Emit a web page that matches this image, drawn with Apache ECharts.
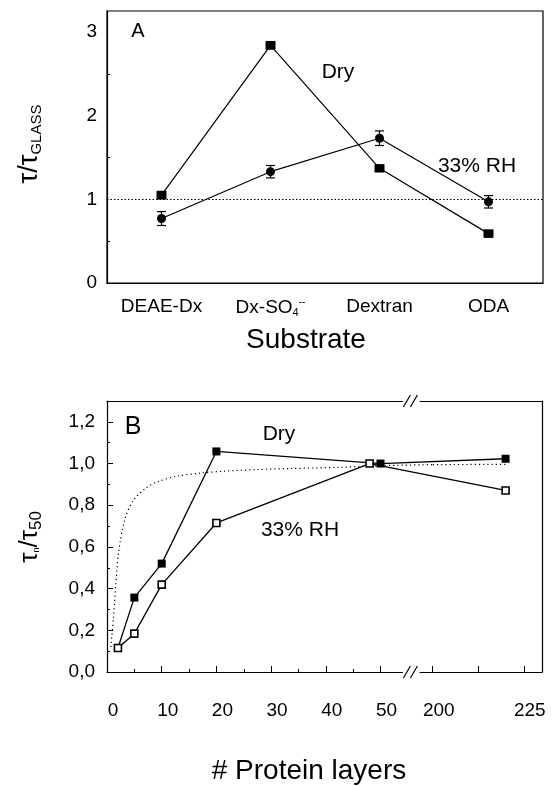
<!DOCTYPE html>
<html>
<head>
<meta charset="utf-8">
<script src="https://cdn.jsdelivr.net/npm/echarts@6/dist/echarts.min.js"></script>
<style>
html, body { margin: 0; padding: 0; background: #fff; }
#chart { width: 557px; height: 787px; }
</style>
</head>
<body>
<div id="chart"></div>
<script>
// ---- panel A : tau / tau_glass per substrate ----
const substrates = ['DEAE-Dx', 'Dx-SO4--', 'Dextran', 'ODA'];
const dryA = [1.05, 2.84, 1.37, 0.59];
const dryAErr = [0.045, 0.045, 0.04, 0.042];
const rhA = [0.77, 1.33, 1.73, 0.97];
const rhAErr = [0.083, 0.074, 0.087, 0.074];
const glassRef = 1;

// ---- panel B : tau_n / tau_50 vs number of protein layers ----
const dryLayers = [2, 5, 10, 20, 50, 220];
const dryB = [0.115, 0.357, 0.52, 1.058, 1.0, 1.023];
const rhLayers = [2, 5, 10, 20, 48, 220];
const rhB = [0.115, 0.184, 0.419, 0.715, 1.0, 0.871];
const fitLayers = [0.7, 1.15, 1.6, 2.1, 3.3, 4.8, 7, 9.1, 12.7, 17, 21.3, 27.4, 33.5, 42.6, 50, 200, 220];
const fitB = [0.12, 0.25, 0.41, 0.57, 0.736, 0.823, 0.88, 0.911, 0.939, 0.954, 0.963, 0.971, 0.976, 0.982, 0.99, 0.995, 0.996];
const xTicksLeft = [0, 10, 20, 30, 40, 50];
const xTicksRight = [200, 212.5, 225];
const xLabelsRight = [200, 225];

const leftMax = 54, rightMin = 196.5, rightMax = 230;

const font = 'Liberation Sans, Arial, sans-serif';
const black = '#000';

let myChart = echarts.init(document.getElementById('chart'));

function pairs(xs, ys) {
  return xs.map((x, i) => [x, ys[i]]);
}
const dryPts = pairs(dryLayers, dryB);
const rhPts = pairs(rhLayers, rhB);
const fitPts = pairs(fitLayers, fitB);
const inLeft = p => p[0] <= leftMax;
const inRight = p => p[0] >= rightMin;

function errorBars(vals, errs) {
  return {
    type: 'custom',
    xAxisIndex: 0,
    yAxisIndex: 0,
    z: 3,
    renderItem: function (params, api) {
      let lo = api.coord([api.value(0), api.value(1)]);
      let hi = api.coord([api.value(0), api.value(2)]);
      let w = 4.5;
      let st = { stroke: black, lineWidth: 1.2 };
      return {
        type: 'group',
        children: [
          { type: 'line', shape: { x1: lo[0], y1: lo[1], x2: hi[0], y2: hi[1] }, style: st },
          { type: 'line', shape: { x1: lo[0] - w, y1: lo[1], x2: lo[0] + w, y2: lo[1] }, style: st },
          { type: 'line', shape: { x1: hi[0] - w, y1: hi[1], x2: hi[0] + w, y2: hi[1] }, style: st }
        ]
      };
    },
    data: vals.map((v, i) => [i, v - errs[i], v + errs[i]])
  };
}

const tickLabel = { color: black, fontSize: 19, fontFamily: font };
const lineOnly = {
  axisLine: { show: true, onZero: false, lineStyle: { color: black, width: 1.2 } },
  axisTick: { show: false },
  axisLabel: { show: false },
  splitLine: { show: false }
};

let option = {
  backgroundColor: '#fff',
  animation: false,
  grid: [
    { left: 107, top: 11, width: 436, height: 272, show: true, borderColor: black, borderWidth: 1.2 },
    { left: 107, top: 401, width: 295.4, height: 271 },
    { left: 420, top: 401, width: 122, height: 271 }
  ],
  xAxis: [
    {
      type: 'category', gridIndex: 0, data: substrates, boundaryGap: true,
      axisLine: { lineStyle: { color: black, width: 1.2 } },
      axisTick: { inside: true, alignWithLabel: true, interval: 0, length: 6, lineStyle: { color: black } },
      axisLabel: Object.assign({}, tickLabel, {
        margin: 14, interval: 0, hideOverlap: false,
        formatter: v => v.replace(/SO4(-+)/, 'SO{sub|4}{sup|$1}'),
        rich: {
          sub: { fontSize: 11, fontFamily: font, color: black, padding: [10, 0, 0, 0] },
          sup: { fontSize: 10, fontFamily: font, color: black, padding: [0, 0, 10, 0] }
        }
      }),
      splitLine: { show: false }
    },
    {
      type: 'value', gridIndex: 1, position: 'bottom', min: 0, max: leftMax, interval: 10,
      axisLine: { onZero: false, lineStyle: { color: black, width: 1.2 } },
      axisTick: { inside: true, length: 6, customValues: xTicksLeft, lineStyle: { color: black } },
      minorTick: { show: true, splitNumber: 2, length: 3, lineStyle: { color: black } },
      axisLabel: Object.assign({}, tickLabel, { margin: 29, customValues: xTicksLeft, padding: [0, 0, 0, 12] }),
      splitLine: { show: false }
    },
    Object.assign({ type: 'value', gridIndex: 1, position: 'top', min: 0, max: leftMax }, lineOnly),
    {
      type: 'value', gridIndex: 2, position: 'bottom', min: rightMin, max: rightMax,
      axisLine: { onZero: false, lineStyle: { color: black, width: 1.2 } },
      axisTick: { inside: true, length: 6, customValues: xTicksRight, lineStyle: { color: black } },
      axisLabel: Object.assign({}, tickLabel, { margin: 29, customValues: xLabelsRight, padding: [0, 0, 0, 12] }),
      splitLine: { show: false }
    },
    Object.assign({ type: 'value', gridIndex: 2, position: 'top', min: rightMin, max: rightMax }, lineOnly)
  ],
  yAxis: [
    {
      type: 'value', gridIndex: 0, min: 0, max: 3.25, interval: 1,
      axisLine: { show: true, lineStyle: { color: black, width: 1.2 } },
      axisTick: { inside: true, length: 6, lineStyle: { color: black } },
      minorTick: { show: true, splitNumber: 2, length: 3, lineStyle: { color: black } },
      axisLabel: Object.assign({}, tickLabel, { margin: 10, showMaxLabel: false }),
      splitLine: { show: false }
    },
    {
      type: 'value', gridIndex: 1, min: 0, max: 1.3, interval: 0.2,
      axisLine: { show: true, onZero: false, lineStyle: { color: black, width: 1.2 } },
      axisTick: { inside: true, length: 6, lineStyle: { color: black } },
      minorTick: { show: true, splitNumber: 2, length: 3, lineStyle: { color: black } },
      axisLabel: Object.assign({}, tickLabel, {
        margin: 12, showMaxLabel: false,
        formatter: v => v.toFixed(1).replace('.', ',')
      }),
      splitLine: { show: false }
    },
    Object.assign({ type: 'value', gridIndex: 2, position: 'right', min: 0, max: 1.3 }, lineOnly)
  ],
  series: [
    {
      name: 'Dry', type: 'line', xAxisIndex: 0, yAxisIndex: 0, data: dryA,
      symbol: 'rect', symbolSize: [10, 8], z: 4,
      itemStyle: { color: black }, lineStyle: { color: black, width: 1.2 },
      markLine: {
        silent: true, symbol: 'none', label: { show: false },
        lineStyle: { color: black, width: 1.2, type: [1.5, 2] },
        data: [{ yAxis: glassRef }]
      }
    },
    {
      name: '33% RH', type: 'line', xAxisIndex: 0, yAxisIndex: 0, data: rhA,
      symbol: 'circle', symbolSize: 9, z: 4,
      itemStyle: { color: black }, lineStyle: { color: black, width: 1.2 }
    },
    errorBars(dryA, dryAErr),
    errorBars(rhA, rhAErr),
    {
      type: 'line', xAxisIndex: 1, yAxisIndex: 1, data: fitPts.filter(inLeft),
      showSymbol: false, smooth: 0.3, lineStyle: { color: black, width: 1.2, type: [1.2, 3] }
    },
    {
      type: 'line', xAxisIndex: 3, yAxisIndex: 2, data: fitPts.filter(inRight),
      showSymbol: false, lineStyle: { color: black, width: 1.2, type: [1.2, 3] }
    },
    {
      name: 'Dry', type: 'line', xAxisIndex: 1, yAxisIndex: 1, data: dryPts.filter(inLeft),
      symbol: 'rect', symbolSize: 8, z: 4,
      itemStyle: { color: black }, lineStyle: { color: black, width: 1.3 }
    },
    {
      name: 'Dry', type: 'line', xAxisIndex: 3, yAxisIndex: 2, data: dryPts.filter(inRight),
      symbol: 'rect', symbolSize: 8, z: 4,
      itemStyle: { color: black }, lineStyle: { color: black, width: 1.3 }
    },
    {
      name: '33% RH', type: 'line', xAxisIndex: 1, yAxisIndex: 1, data: rhPts.filter(inLeft),
      symbol: 'rect', symbolSize: 7, z: 5,
      itemStyle: { color: '#fff', borderColor: black, borderWidth: 1.6 },
      lineStyle: { color: black, width: 1.3 }
    },
    {
      name: '33% RH', type: 'line', xAxisIndex: 3, yAxisIndex: 2, data: rhPts.filter(inRight),
      symbol: 'rect', symbolSize: 7, z: 5,
      itemStyle: { color: '#fff', borderColor: black, borderWidth: 1.6 },
      lineStyle: { color: black, width: 1.3 }
    }
  ],
  graphic: [
    { type: 'text', x: 138, y: 31, style: { text: 'A', font: '20px ' + font, fill: black, align: 'center', verticalAlign: 'middle' } },
    { type: 'text', x: 338, y: 72, style: { text: 'Dry', font: '21px ' + font, fill: black, align: 'center', verticalAlign: 'middle' } },
    { type: 'text', x: 477, y: 166, style: { text: '33% RH', font: '21px ' + font, fill: black, align: 'center', verticalAlign: 'middle' } },
    { type: 'text', x: 306, y: 340, style: { text: 'Substrate', font: '28px ' + font, fill: black, align: 'center', verticalAlign: 'middle' } },
    {
      type: 'text', x: 30, y: 144, rotation: Math.PI / 2,
      style: {
        text: '{t|τ/τ}{s|GLASS}', align: 'center', verticalAlign: 'middle', fill: black,
        rich: {
          t: { fontSize: 27, fontFamily: font, fill: black },
          s: { fontSize: 15, fontFamily: font, fill: black, padding: [14, 0, 0, 0] }
        }
      }
    },
    { type: 'text', x: 133, y: 427, style: { text: 'B', font: '25px ' + font, fill: black, align: 'center', verticalAlign: 'middle' } },
    { type: 'text', x: 279, y: 434, style: { text: 'Dry', font: '21px ' + font, fill: black, align: 'center', verticalAlign: 'middle' } },
    { type: 'text', x: 300, y: 530, style: { text: '33% RH', font: '21px ' + font, fill: black, align: 'center', verticalAlign: 'middle' } },
    { type: 'text', x: 309, y: 771, style: { text: '# Protein layers', font: '28px ' + font, fill: black, align: 'center', verticalAlign: 'middle' } },
    {
      type: 'text', x: 30, y: 537, rotation: Math.PI / 2,
      style: {
        text: '{t|τ}{n|n}{t|/τ}{s|50}', align: 'center', verticalAlign: 'middle', fill: black,
        rich: {
          t: { fontSize: 26, fontFamily: font, fill: black },
          n: { fontSize: 9, fontFamily: font, fill: black, padding: [14, 0, 0, 0] },
          s: { fontSize: 17, fontFamily: font, fill: black, padding: [12, 0, 0, 0] }
        }
      }
    }
  ]
};

myChart.setOption(option);

// pieces that cross the axis break: join last point left of it to first point right of it
function toPx(leftSide, pt) {
  return leftSide
    ? myChart.convertToPixel({ xAxisIndex: 1, yAxisIndex: 1 }, pt)
    : myChart.convertToPixel({ xAxisIndex: 3, yAxisIndex: 2 }, pt);
}
function bridge(pts, style) {
  let a = pts.filter(inLeft).pop();
  let b = pts.filter(inRight)[0];
  let p = toPx(true, a), q = toPx(false, b);
  return { type: 'line', z: 3, shape: { x1: p[0], y1: p[1], x2: q[0], y2: q[1] }, style: style };
}
// break marks "//" on top and bottom axes, in the gap between the two grids
let gx0 = toPx(true, [leftMax, 0])[0];
let yTop = toPx(true, [0, 1.3])[1];
let yBot = toPx(true, [0, 0])[1];
let slashes = [];
[yTop, yBot].forEach(y => {
  [gx0 + 1, gx0 + 8].forEach(x => {
    slashes.push({ type: 'line', z: 5, shape: { x1: x, y1: y + 6, x2: x + 7, y2: y - 6 }, style: { stroke: black, lineWidth: 1.2 } });
  });
});

myChart.setOption({
  graphic: option.graphic.concat([
    bridge(dryPts, { stroke: black, lineWidth: 1.3 }),
    bridge(rhPts, { stroke: black, lineWidth: 1.3 }),
    bridge(fitPts, { stroke: black, lineWidth: 1.2, lineDash: [1.2, 3] })
  ], slashes)
});

window.addEventListener('resize', () => {
  myChart.resize()
})
</script>
</body>
</html>
